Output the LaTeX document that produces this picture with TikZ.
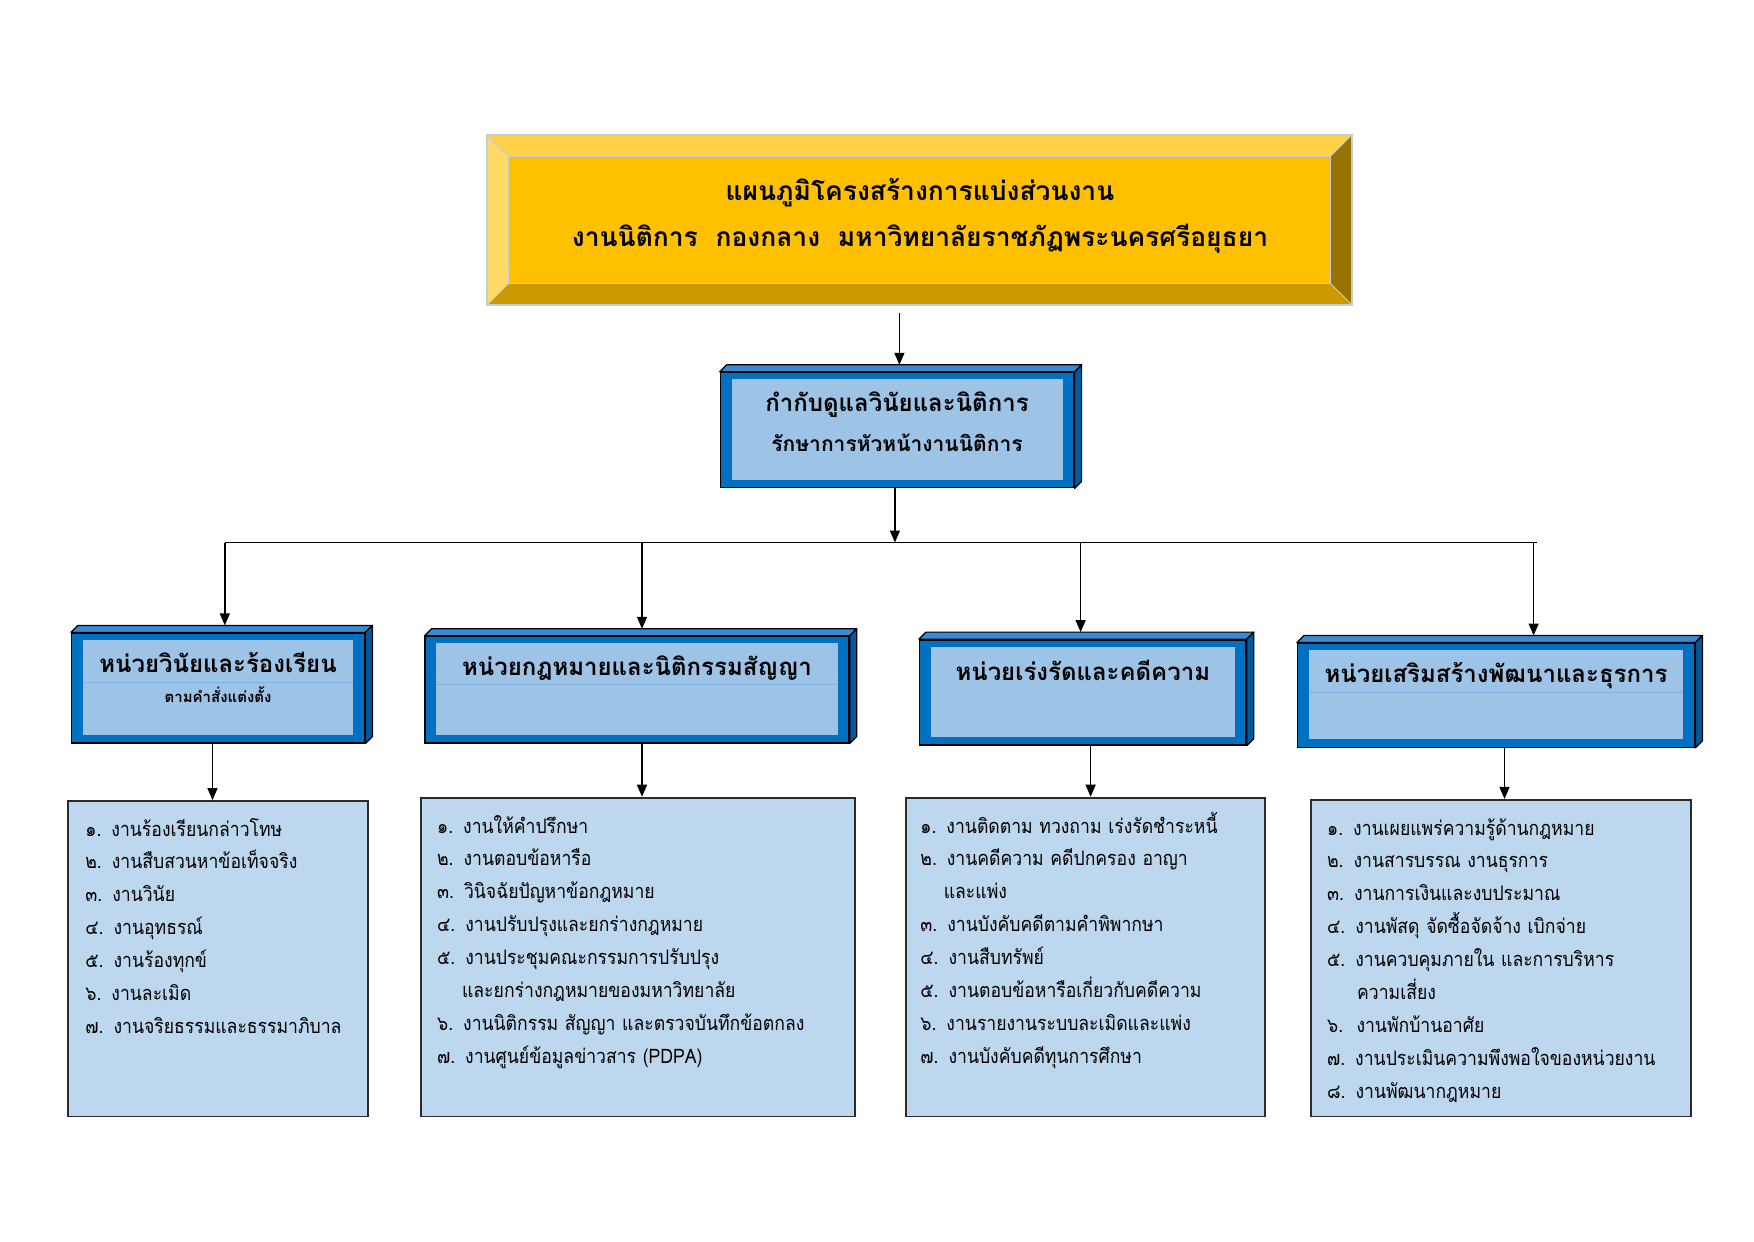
\documentclass[tikz,border=0pt]{standalone}
\usepackage{fontspec}
\newfontfamily\thaifont[Script=Thai]{Loma}
\newfontfamily\thailist[Script=Thai, FakeStretch=0.88]{Loma}
\usetikzlibrary{arrows.meta,fit}
\definecolor{gold}{HTML}{FFC000}
\definecolor{goldtop}{HTML}{FFD147}
\definecolor{goldleft}{HTML}{FFD966}
\definecolor{goldright}{HTML}{997300}
\definecolor{goldbottom}{HTML}{CC9A00}
\definecolor{goldedge}{HTML}{C5CED6}
\definecolor{borderblue}{HTML}{0070C0}
\definecolor{topblue}{HTML}{3A8AD2}
\definecolor{sideblue}{HTML}{005A9C}
\definecolor{innerblue}{HTML}{9DC3E6}
\definecolor{faintline}{HTML}{7EB1DF}
\definecolor{listblue}{HTML}{BDD7EE}
\definecolor{listedge}{HTML}{2B2B2B}
\tikzset{
  arr/.style={-{Triangle[length=6pt,width=5pt]}, line width=0.75pt},
  wire/.style={line width=0.75pt},
  unitface/.style={draw=black, fill=borderblue, inner sep=0pt, line width=0.7pt},
  listbox/.style={draw=listedge, fill=listblue, inner sep=0pt, line width=0.9pt},
  titletext/.style={font=\thaifont\bfseries\fontsize{13.2}{15}\selectfont, inner sep=0pt, anchor=base},
  headtext/.style={font=\thaifont\bfseries\fontsize{12}{14}\selectfont, inner sep=0pt, anchor=base},
  midsub/.style={font=\thaifont\bfseries\fontsize{10.5}{12}\selectfont, inner sep=0pt, anchor=base},
  smallsub/.style={font=\thaifont\bfseries\fontsize{7.5}{9}\selectfont, inner sep=0pt, anchor=base},
  listtext/.style={font=\thailist\fontsize{10}{16.45}\selectfont, text width=320pt, align=left, inner sep=0pt, anchor=base west},
}
% name, x1, y1, x2, y2
\newcommand{\unitbox}[5]{%
  \node[unitface, fit={(#2,#3) (#4,#5)}] (#1) {};
  \fill[topblue, draw=black, line width=0.6pt, line join=round] (#1.north west) -- ++(7,-7) -- ([shift={(7,-7)}]#1.north east) -- (#1.north east) -- cycle;
  \fill[sideblue, draw=black, line width=0.6pt, line join=round] (#1.north east) -- ++(7,-7) -- ([shift={(7,-7)}]#1.south east) -- (#1.south east) -- cycle;
  \fill[innerblue] ([shift={(12,7.5)}]#1.north west) rectangle ([shift={(-12,-8.5)}]#1.south east);
  \coordinate (#1-top) at ([yshift=3.5pt]#1.north);
}
\begin{document}
\begin{tikzpicture}[x=0.5pt,y=-0.5pt]
\fill[white] (0,0) rectangle (1754,1241);
\useasboundingbox (0,0) rectangle (1754,1241);

% ---- title plate
\node[fit={(487.7,135.4) (1351.3,304.3)}, inner sep=0pt] (title) {};
\fill[gold] (title.north west) rectangle (title.south east);
\fill[goldtop] (title.north west) -- (title.north east) -- ([shift={(-21.5,21.5)}]title.north east) -- ([shift={(21.5,21.5)}]title.north west) -- cycle;
\fill[goldleft] (title.north west) -- ([shift={(21.5,21.5)}]title.north west) -- ([shift={(21.5,-21.5)}]title.south west) -- (title.south west) -- cycle;
\fill[goldright] (title.north east) -- ([shift={(-21.5,21.5)}]title.north east) -- ([shift={(-21.5,-21.5)}]title.south east) -- (title.south east) -- cycle;
\fill[goldbottom] (title.south west) -- ([shift={(21.5,-21.5)}]title.south west) -- ([shift={(-21.5,-21.5)}]title.south east) -- (title.south east) -- cycle;
\draw[goldedge, line width=0.4pt] (title.north west) -- ([shift={(21.5,21.5)}]title.north west)
  (title.north east) -- ([shift={(-21.5,21.5)}]title.north east)
  (title.south west) -- ([shift={(21.5,-21.5)}]title.south west)
  (title.south east) -- ([shift={(-21.5,-21.5)}]title.south east);
\draw[goldedge, line width=0.4pt] ([shift={(21.5,21.5)}]title.north west) rectangle ([shift={(-21.5,-21.5)}]title.south east);
\draw[goldedge, line width=1pt] (title.north west) rectangle (title.south east);
\node[titletext] (title-1) at (920,200.5) {แผนภูมิโครงสร้างการแบ่งส่วนงาน};
\node[titletext] (title-2) at (920,247) {งานนิติการ\ \ กองกลาง\ \ มหาวิทยาลัยราชภัฏพระนครศรีอยุธยา};

% ---- middle box
\unitbox{mid}{720.4}{372.5}{1073.9}{487.7}
\node[headtext] (mid-1) at (897,411.5) {กำกับดูแลวินัยและนิติการ};
\node[midsub] (mid-2) at (897,451.5) {รักษาการหัวหน้างานนิติการ};

% ---- unit boxes
\unitbox{u1}{71.6}{633.1}{364.7}{742.8}
\unitbox{u2}{425.1}{636.5}{849}{742.8}
\unitbox{u3}{919.5}{639.8}{1246.1}{745}
\unitbox{u4}{1297.6}{643.2}{1694.7}{747.2}
\draw[faintline, line width=0.5pt] (83.6,682) -- (352.7,682);
\draw[faintline, line width=0.5pt] (437.1,684) -- (837,684);
\draw[faintline, line width=0.5pt] (1309.6,692) -- (1682.7,692);
\node[headtext] (u1-1) at (218,672.5) {หน่วยวินัยและร้องเรียน};
\node[smallsub] (u1-2) at (218,702.5) {ตามคำสั่งแต่งตั้ง};
\node[headtext] (u2-1) at (637,675) {หน่วยกฎหมายและนิติกรรมสัญญา};
\node[headtext] (u3-1) at (1082.8,680) {หน่วยเร่งรัดและคดีความ};
\node[headtext] (u4-1) at (1496,682) {หน่วยเสริมสร้างพัฒนาและธุรการ};

% ---- list boxes
\node[listbox, fit={(68.2,801) (368,1116.4)}] (l1) {};
\node[listbox, fit={(420.6,797.6) (854.6,1116.4)}] (l2) {};
\node[listbox, fit={(906,797.6) (1265.2,1116.4)}] (l3) {};
\node[listbox, fit={(1311,799.8) (1691.3,1116.4)}] (l4) {};

\node[listtext] (l1-t) at (85,836) {%
๑. งานร้องเรียนกล่าวโทษ\\
๒. งานสืบสวนหาข้อเท็จจริง\\
๓. งานวินัย\\
๔. งานอุทธรณ์\\
๕. งานร้องทุกข์\\
๖. งานละเมิด\\
๗. งานจริยธรรมและธรรมาภิบาล};

\node[listtext] (l2-t) at (436.7,833) {%
๑. งานให้คำปรึกษา\\
๒. งานตอบข้อหารือ\\
๓. วินิจฉัยปัญหาข้อกฎหมาย\\
๔. งานปรับปรุงและยกร่างกฎหมาย\\
๕. งานประชุมคณะกรรมการปรับปรุง\\
\hspace*{12.5pt}และยกร่างกฎหมายของมหาวิทยาลัย\\
๖. งานนิติกรรม สัญญา และตรวจบันทึกข้อตกลง\\
๗. งานศูนย์ข้อมูลข่าวสาร (PDPA)};

\node[listtext] (l3-t) at (920,833) {%
๑. งานติดตาม ทวงถาม เร่งรัดชำระหนี้\\
๒. งานคดีความ คดีปกครอง อาญา\\
\hspace*{11.7pt}และแพ่ง\\
๓. งานบังคับคดีตามคำพิพากษา\\
๔. งานสืบทรัพย์\\
๕. งานตอบข้อหารือเกี่ยวกับคดีความ\\
๖. งานรายงานระบบละเมิดและแพ่ง\\
๗. งานบังคับคดีทุนการศึกษา};

\node[listtext] (l4-t) at (1326.7,835) {%
๑. งานเผยแพร่ความรู้ด้านกฎหมาย\\
๒. งานสารบรรณ งานธุรการ\\
๓. งานการเงินและงบประมาณ\\
๔. งานพัสดุ จัดซื้อจัดจ้าง เบิกจ่าย\\
๕. งานควบคุมภายใน และการบริหาร\\
\hspace*{15pt}ความเสี่ยง\\
๖.\ \ งานพักบ้านอาศัย\\
๗. งานประเมินความพึงพอใจของหน่วยงาน\\
๘. งานพัฒนากฎหมาย};

% ---- connectors
\coordinate (title-out) at ([yshift=-4.3pt]title.south);
\draw[arr] (title-out -| 899.4,0) -- (mid-top -| 899.4,0);
\coordinate (bus-l) at (224.8,542.5);
\coordinate (bus-r) at (1537,542.5);
\draw[wire] (bus-l) -- (bus-r);
\draw[arr] (mid.south -| 894.9,0) -- (bus-l -| 894.9,0);
\coordinate (d2) at (642,542.5);
\coordinate (d3) at (1080.6,542.5);
\coordinate (d4) at (1533.6,542.5);
\draw[arr] (bus-l) -- (bus-l |- u1-top);
\draw[arr] (d2) -- (d2 |- u2-top);
\draw[arr] (d3) -- (d3 |- u3-top);
\draw[arr] (d4) -- (d4 |- u4-top);
\draw[arr] (u1.south -| 212.5,0) -- (l1.north -| 212.5,0);
\draw[arr] (u2.south -| 642,0) -- (l2.north -| 642,0);
\draw[arr] (u3.south -| 1090.6,0) -- (l3.north -| 1090.6,0);
\draw[arr] (u4.south -| 1504.5,0) -- (l4.north -| 1504.5,0);
\end{tikzpicture}
\end{document}
